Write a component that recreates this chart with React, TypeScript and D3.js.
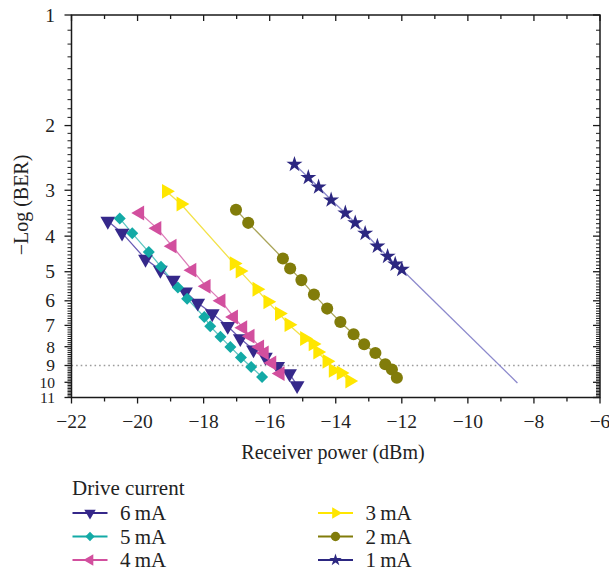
import React from 'react';
import * as d3 from 'd3';

// receiver power (dBm) and -log(BER)
const power6 = [-20.90, -20.47, -19.76, -19.31, -18.92, -18.55, -18.18, -17.74, -17.27, -16.89, -16.49, -16.13, -15.76, -15.40, -15.17];
const ber6 = [3.64, 3.92, 4.62, 4.95, 5.27, 5.67, 6.08, 6.50, 7.04, 7.60, 8.15, 8.53, 9.04, 9.47, 10.2];

const power5 = [-20.54, -20.16, -19.66, -19.29, -18.78, -18.50, -17.98, -17.80, -17.49, -17.19, -16.87, -16.56, -16.23];
const ber5 = [3.58, 3.93, 4.42, 4.85, 5.52, 5.92, 6.64, 7.04, 7.52, 8.01, 8.56, 9.08, 9.67];

const power4 = [-19.93, -19.41, -18.95, -18.35, -17.92, -17.47, -17.09, -16.81, -16.59, -16.30, -16.16, -15.93, -15.68];
const ber4 = [3.46, 3.81, 4.26, 4.95, 5.48, 6.00, 6.64, 7.10, 7.49, 8.01, 8.32, 8.86, 9.47];

const power3 = [-19.13, -18.69, -17.08, -16.90, -16.39, -16.06, -15.71, -15.42, -14.95, -14.69, -14.55, -14.27, -14.08, -13.84, -13.58];
const ber3 = [3.02, 3.27, 4.75, 4.98, 5.58, 6.04, 6.50, 6.97, 7.60, 7.86, 8.27, 8.77, 9.28, 9.43, 9.92];

const power2 = [-17.02, -16.65, -15.60, -15.38, -15.04, -14.66, -14.26, -13.86, -13.46, -13.14, -12.80, -12.50, -12.30, -12.15];
const ber2 = [3.39, 3.68, 4.60, 4.90, 5.27, 5.77, 6.30, 6.85, 7.40, 7.88, 8.32, 8.93, 9.23, 9.72];

const power1 = [-15.25, -14.83, -14.52, -14.14, -13.71, -13.41, -13.11, -12.74, -12.43, -12.20, -12.00];
const ber1 = [2.55, 2.77, 2.94, 3.19, 3.46, 3.68, 3.93, 4.26, 4.54, 4.77, 4.93];
// fitted line of 1 mA carries on past the last measured point
const fit1Power = [-12.00, -8.50];
const fit1Ber = [4.93, 10.04];

const xTicks = [-22, -20, -18, -16, -14, -12, -10, -8, -6];
const yTicks = [1, 2, 3, 4, 5, 6, 7, 8, 9, 10, 11];
const errorFloor = 9;

const series = [
  { label: '6\u2009mA', power: power6, ber: ber6, color: '#35288a', line: '#6a5cb4', sym: d3.symbolTriangle, rot: 180, size: 95 },
  { label: '5\u2009mA', power: power5, ber: ber5, color: '#13aaa6', line: '#5ec6c2', sym: d3.symbolSquare, rot: 45, size: 72 },
  { label: '4\u2009mA', power: power4, ber: ber4, color: '#d24f9e', line: '#dc7cb8', sym: d3.symbolTriangle, rot: -90, size: 95 },
  { label: '3\u2009mA', power: power3, ber: ber3, color: '#ffe600', line: '#f3e24a', sym: d3.symbolTriangle, rot: 90, size: 95 },
  { label: '2\u2009mA', power: power2, ber: ber2, color: '#817c0a', line: '#aaa55a', sym: d3.symbolCircle, rot: 0, size: 115 },
  { label: '1\u2009mA', power: power1, ber: ber1, color: '#2c2781', line: '#8c89cc', sym: d3.symbolStar, rot: 0, size: 80 },
];

const font = '"Liberation Serif", "Times New Roman", Times, serif';
const minus = (v: number) => (v < 0 ? '\u2212' + Math.abs(v) : String(v));
const yLabelSize = (v: number) => (v >= 10 ? 15.5 : v >= 8 ? 17.5 : 19.5);

export default function App() {
  const left = 71.5, right = 600, top = 15, bottom = 397.5;
  const x = d3.scaleLinear().domain([-22, -6]).range([left, right]);
  const y = d3.scaleLog().domain([1, 11]).range([top, bottom]);

  const line = d3.line<[number, number]>().x(d => x(d[0])).y(d => y(d[1]));

  const xMinor = d3.range(-22, -5, 1);
  const yMinor = d3.range(10, 111, 1).map(v => v / 10).filter(v => !Number.isInteger(v));

  const legendRows = [513, 536.5, 560];
  const txt = { fontFamily: font, fill: '#222' };

  return (
    <svg width={609} height={571} style={{ position: 'absolute', left: 0, top: 0, background: '#fff', fontFamily: font }}>
      {/* error floor */}
      <line x1={left} x2={right} y1={y(errorFloor)} y2={y(errorFloor)} stroke="#9c9c9c" strokeWidth={1.6} strokeDasharray="1.6,3" />

      {/* connecting lines */}
      {series.map(s => (
        <path key={'l' + s.label} d={line(s.power.map((p, i) => [p, s.ber[i]]) as [number, number][]) || ''} fill="none" stroke={s.line} strokeWidth={1.3} />
      ))}
      <path d={line(fit1Power.map((p, i) => [p, fit1Ber[i]]) as [number, number][]) || ''} fill="none" stroke="#8c89cc" strokeWidth={1.3} />

      {/* markers */}
      {series.map(s => {
        const path = d3.symbol().type(s.sym).size(s.size)() || '';
        return (
          <g key={'m' + s.label}>
            {s.power.map((p, i) => (
              <path key={i} d={path} fill={s.color} transform={`translate(${x(p)},${y(s.ber[i])}) rotate(${s.rot})`} />
            ))}
          </g>
        );
      })}

      {/* frame */}
      <rect x={left} y={top} width={right - left} height={bottom - top} fill="none" stroke="#1a1a1a" strokeWidth={1.5} />

      {/* x ticks bottom (outward) and top (inward) */}
      {xMinor.map(v => {
        const len = v % 2 === 0 ? 6 : 4;
        return (
          <g key={'xt' + v} stroke="#1a1a1a" strokeWidth={1.3}>
            <line x1={x(v)} x2={x(v)} y1={bottom} y2={bottom + len} />
            <line x1={x(v)} x2={x(v)} y1={top} y2={top + len} />
          </g>
        );
      })}
      {xTicks.map(v => (
        <text key={'xl' + v} x={x(v)} y={428} fontSize={19.5} textAnchor="middle" style={txt}>{minus(v)}</text>
      ))}

      {/* y ticks left (outward) and right (inward) */}
      {yMinor.map(v => (
        <g key={'ym' + v} stroke="#1a1a1a" strokeWidth={1}>
          <line x1={left - 4} x2={left} y1={y(v)} y2={y(v)} />
          <line x1={right - 4} x2={right} y1={y(v)} y2={y(v)} />
        </g>
      ))}
      {yTicks.map(v => (
        <g key={'yt' + v}>
          <line x1={left - 7} x2={left} y1={y(v)} y2={y(v)} stroke="#1a1a1a" strokeWidth={1.3} />
          <line x1={right - 7} x2={right} y1={y(v)} y2={y(v)} stroke="#1a1a1a" strokeWidth={1.3} />
          <text x={55} y={y(v)} dy="0.34em" fontSize={yLabelSize(v)} textAnchor="end" style={txt}>{v}</text>
        </g>
      ))}

      {/* axis titles */}
      <text x={333} y={459} fontSize={20} textAnchor="middle" style={txt}>Receiver power (dBm)</text>
      <text transform="translate(27.5,205) rotate(-90)" fontSize={20} textAnchor="middle" style={txt}>{'\u2212Log (BER)'}</text>

      {/* legend */}
      <text x={72} y={495} fontSize={21} style={txt}>Drive current</text>
      {series.map((s, i) => {
        const col = i < 3 ? 0 : 1;
        const row = i % 3;
        const lx = col === 0 ? 72.5 : 318;
        const ly = legendRows[row];
        const path = d3.symbol().type(s.sym).size(s.size * 0.6)() || '';
        return (
          <g key={'lg' + s.label}>
            <line x1={lx} x2={lx + 35} y1={ly} y2={ly} stroke={s.color} strokeWidth={1.8} />
            <path d={path} fill={s.color} transform={`translate(${lx + 17.5},${ly}) rotate(${s.rot})`} />
            <text x={lx + 47.5} y={ly} dy="0.35em" fontSize={21} style={txt}>{s.label}</text>
          </g>
        );
      })}
    </svg>
  );
}
